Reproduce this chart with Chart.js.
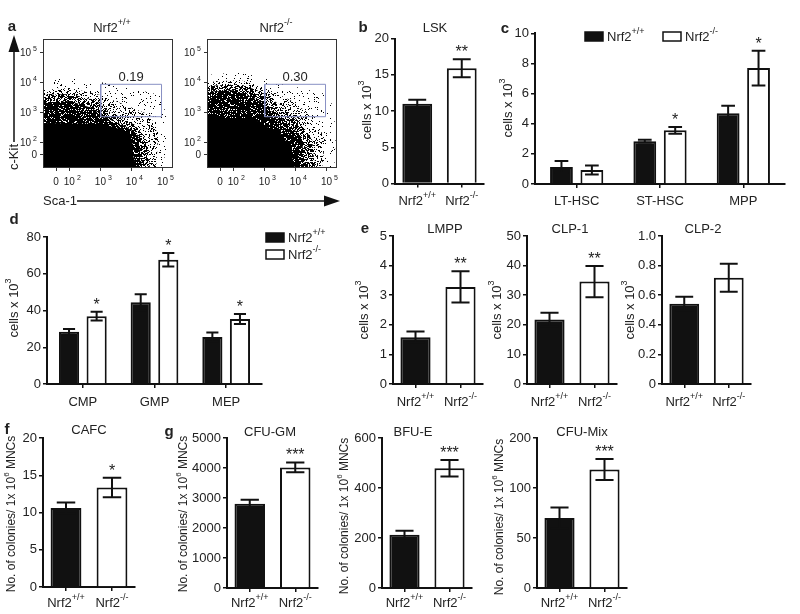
<!DOCTYPE html>
<html>
<head>
<meta charset="utf-8">
<script src="https://cdn.jsdelivr.net/npm/chart.js@4.4.0/dist/chart.umd.min.js"></script>
<style>
  html, body { margin: 0; padding: 0; background: #fff; }
  #wrap { position: relative; width: 800px; height: 614px; overflow: hidden; }
  #wrap canvas { position: absolute; left: 0; top: 0; }
</style>
</head>
<body>
<div id="wrap"></div>
<script>
// ---------- data ----------
const genotypes = ['Nrf2+/+', 'Nrf2-/-'];

// b: LSK
const lskMean = [11.0, 15.9];
const lskSem = [0.55, 1.25];
const lskSig = ['', '**'];

// c: HSC subsets
const hscCats = ['LT-HSC', 'ST-HSC', 'MPP'];
const hscWtMean = [1.13, 2.84, 4.69];
const hscWtSem = [0.40, 0.09, 0.51];
const hscKoMean = [0.93, 3.56, 7.69];
const hscKoSem = [0.30, 0.22, 1.15];
const hscSig = ['', '*', '*'];

// d: myeloid progenitors
const progCats = ['CMP', 'GMP', 'MEP'];
const progWtMean = [28.4, 44.5, 25.6];
const progWtSem = [1.6, 4.4, 2.4];
const progKoMean = [36.9, 67.6, 35.4];
const progKoSem = [2.4, 3.7, 2.7];
const progSig = ['*', '*', '*'];

// e: lymphoid progenitors
const lmppMean = [1.58, 3.28];
const lmppSem = [0.19, 0.53];
const lmppSig = ['', '**'];
const clp1Mean = [21.8, 34.6];
const clp1Sem = [2.3, 5.3];
const clp1Sig = ['', '**'];
const clp2Mean = [0.543, 0.718];
const clp2Sem = [0.047, 0.095];
const clp2Sig = ['', ''];

// f: CAFC
const cafcMean = [10.6, 13.35];
const cafcSem = [0.75, 1.3];
const cafcSig = ['', '*'];

// g: colony assays
const cfuGmMean = [2810, 4020];
const cfuGmSem = [135, 165];
const bfuEMean = [213, 479];
const bfuESem = [16, 33];
const cfuMixMean = [70, 118.5];
const cfuMixSem = [10.5, 10.5];
const colonySig = ['', '***'];
const cfuMixTicks = [0, 50, 100, 150];
const cfuMixTickLabels = ['0', '50', '100', '200'];

// a: flow plots, axis units are decades (0 sits at 1.6)
// outlines of the event cloud at falling density, sparse -> solid
const flowTickPos = [1.6, 2, 3, 4, 5];
const flowTickExp = ['', '2', '3', '4', '5'];
const wtSparse = [[1.15, 4.08], [2.02, 4.15], [2.99, 4.02], [3.96, 3.82], [4.92, 3.58], [5.18, 2.75], [5.12, 1.75], [4.99, 1.15], [1.15, 1.15]];
const wtLight = [[1.15, 3.75], [2.02, 3.82], [2.99, 3.58], [3.80, 3.25], [4.60, 2.92], [4.86, 2.25], [4.80, 1.15], [1.15, 1.15]];
const wtMid = [[1.15, 3.58], [2.02, 3.62], [2.83, 3.42], [3.31, 3.02], [4.12, 2.58], [4.47, 2.08], [4.60, 1.15], [1.15, 1.15]];
const wtDark = [[1.15, 3.32], [2.02, 3.38], [2.73, 3.15], [3.15, 2.82], [3.80, 2.55], [4.21, 2.25], [4.34, 1.15], [1.15, 1.15]];
const wtSolid = [[1.15, 2.65], [2.99, 2.62], [3.41, 2.52], [3.73, 2.42], [3.96, 2.25], [4.05, 1.92], [4.05, 1.58], [4.18, 1.15], [1.15, 1.15]];
const koSparse = [[1.15, 4.25], [2.21, 4.35], [3.18, 4.08], [4.15, 3.82], [5.12, 3.58], [5.31, 2.42], [5.25, 1.15], [1.15, 1.15]];
const koLight = [[1.15, 4.02], [2.21, 4.08], [3.02, 3.82], [3.83, 3.42], [4.63, 2.82], [4.96, 2.08], [4.86, 1.15], [1.15, 1.15]];
const koMid = [[1.15, 3.88], [2.21, 3.95], [2.92, 3.68], [3.50, 3.25], [4.15, 2.68], [4.54, 2.08], [4.63, 1.15], [1.15, 1.15]];
const koDark = [[1.15, 3.68], [2.05, 3.75], [2.80, 3.42], [3.25, 3.02], [3.89, 2.55], [4.21, 2.08], [4.31, 1.15], [1.15, 1.15]];
const koSolid = [[1.15, 2.82], [2.63, 2.82], [3.09, 2.52], [3.50, 2.32], [3.83, 1.85], [3.92, 1.42], [3.99, 1.15], [1.15, 1.15]];
const gateX = [3.01, 4.97];
const gateY = [2.86, 3.94];
const gateFreq = ['0.19', '0.30'];

// ---------- drawing helpers ----------
const FONT = '"Liberation Sans", Arial, Helvetica, sans-serif';
const INK = '#111';
const TEXT = '#222';

Chart.defaults.font.family = FONT;
Chart.defaults.color = TEXT;

const wtLab = { base: 'Nrf2', sup: '+/+' };
const koLab = { base: 'Nrf2', sup: '-/-' };
const cellsLab = { base: 'cells x 10', sup: '3' };
const colonyLab = { base: 'No. of colonies/ 1x 10', sup: '6', after: ' MNCs' };

const wrap = document.getElementById('wrap');
function addCanvas() {
  const c = document.createElement('canvas');
  c.width = 800;
  c.height = 614;
  wrap.appendChild(c);
  return c;
}

// label = string or {base, sup, after}
function drawLabel(ctx, x, y, lab, size, align, bold) {
  if (typeof lab === 'string') lab = { base: lab };
  const w = bold ? 'bold ' : '';
  const big = w + size + 'px ' + FONT;
  const small = w + Math.round(size * 0.68) + 'px ' + FONT;
  const gap = lab.gap || 0;
  ctx.font = big;
  const w1 = ctx.measureText(lab.base).width;
  const w3 = lab.after ? ctx.measureText(lab.after).width : 0;
  ctx.font = small;
  const w2 = lab.sup ? ctx.measureText(lab.sup).width : 0;
  const total = lab.centerBase ? w1 : w1 + gap + w2 + w3;
  let x0 = x;
  if (align === 'center') x0 = x - total / 2;
  else if (align === 'right') x0 = x - total;
  ctx.textAlign = 'left';
  ctx.textBaseline = 'middle';
  ctx.font = big;
  ctx.fillText(lab.base, x0, y);
  if (lab.sup) {
    ctx.font = small;
    ctx.fillText(lab.sup, x0 + w1 + gap, y - size * 0.42);
  }
  if (lab.after) {
    ctx.font = big;
    ctx.fillText(lab.after, x0 + w1 + gap + w2, y);
  }
}

// speckle texture for the dot clouds (fixed hash, no randomness)
function makeStipple(density, seed) {
  const n = 48;
  const t = document.createElement('canvas');
  t.width = n;
  t.height = n;
  const c = t.getContext('2d');
  c.fillStyle = '#000';
  for (let y = 0; y < n; y++) {
    for (let x = 0; x < n; x++) {
      const h = Math.sin(x * 12.9898 + y * 78.233 + seed * 37.719) * 43758.5453;
      if (h - Math.floor(h) < density) c.fillRect(x, y, 1, 1);
    }
  }
  return c.createPattern(t, 'repeat');
}
const sparseTex = makeStipple(0.05, 1);
const lightTex = makeStipple(0.2, 2);
const midTex = makeStipple(0.4, 3);
const darkTex = makeStipple(0.7, 4);

const decorPlugin = {
  id: 'decor',
  afterDatasetsDraw(chart) {
    const ctx = chart.ctx;
    const ys = chart.scales.y;
    chart.data.datasets.forEach((ds, i) => {
      if (!ds.errors) return;
      const meta = chart.getDatasetMeta(i);
      meta.data.forEach((bar, j) => {
        const m = ds.data[j];
        const e = ds.errors[j];
        const yt = ys.getPixelForValue(m + e);
        const yb = ys.getPixelForValue(m - e);
        const half = bar.width * 0.3;
        ctx.save();
        ctx.strokeStyle = INK;
        ctx.lineWidth = 2;
        ctx.beginPath();
        ctx.moveTo(bar.x, yb); ctx.lineTo(bar.x, yt);
        ctx.moveTo(bar.x - half, yt); ctx.lineTo(bar.x + half, yt);
        ctx.moveTo(bar.x - half, yb); ctx.lineTo(bar.x + half, yb);
        ctx.stroke();
        const star = ds.stars && ds.stars[j];
        if (star) {
          ctx.fillStyle = TEXT;
          ctx.font = '16px ' + FONT;
          ctx.textAlign = 'center';
          ctx.textBaseline = 'alphabetic';
          ctx.fillText(star, bar.x, yt - 2);
        }
        ctx.restore();
      });
    });
  },
  afterDraw(chart, args, o) {
    const ctx = chart.ctx;
    const area = chart.chartArea;
    ctx.save();
    ctx.fillStyle = TEXT;
    (o.texts || []).forEach(t => drawLabel(ctx, t.x, t.y, t.lab, t.size || 13, t.align || 'center', t.bold));
    (o.yTitles || []).forEach(t => {
      ctx.save();
      ctx.translate(t.x, t.y);
      ctx.rotate(-Math.PI / 2);
      drawLabel(ctx, 0, 0, t.lab, t.size || 13, 'center');
      ctx.restore();
    });
    if (o.cats) {
      const xs = chart.scales.x;
      o.cats.labs.forEach((lab, j) => drawLabel(ctx, xs.getPixelForTick(j), o.cats.y, lab, o.cats.size || 13, 'center'));
    }
    (o.legend || []).forEach(L => {
      ctx.fillStyle = L.fill;
      ctx.fillRect(L.x, L.y, 18, 9);
      ctx.strokeStyle = INK;
      ctx.lineWidth = 1.5;
      ctx.strokeRect(L.x, L.y, 18, 9);
      ctx.fillStyle = TEXT;
      drawLabel(ctx, L.x + 22, L.y + 5, L.lab, 13, 'left');
    });
    if (o.flow) {
      ctx.strokeStyle = '#333';
      ctx.lineWidth = 1;
      ctx.strokeRect(area.left + 0.5, area.top + 0.5, area.right - area.left - 1, area.bottom - area.top - 1);
      const xs = chart.scales.x;
      const ys = chart.scales.y;
      ctx.fillStyle = TEXT;
      flowTickPos.forEach((v, k) => {
        const e = flowTickExp[k];
        const xl = e ? { base: '10', sup: e, gap: 2, centerBase: true } : '0';
        const yl = e ? { base: '10', sup: e, gap: 2 } : '0';
        drawLabel(ctx, xs.getPixelForValue(v) + (e ? 0 : -1), area.bottom + 14, xl, 10, 'center');
        drawLabel(ctx, area.left - 6, ys.getPixelForValue(v) + 1, yl, 10, 'right');
      });
      drawLabel(ctx, xs.getPixelForValue((gateX[0] + gateX[1]) / 2), ys.getPixelForValue(gateY[1]) - 7, o.flow.freq, 13, 'center');
    }
    if (o.arrows) {
      ctx.strokeStyle = INK;
      ctx.fillStyle = INK;
      ctx.lineWidth = 1.5;
      ctx.beginPath();
      ctx.moveTo(14, 142); ctx.lineTo(14, 48);
      ctx.moveTo(77, 201); ctx.lineTo(328, 201);
      ctx.stroke();
      ctx.beginPath();
      ctx.moveTo(14, 35); ctx.lineTo(8.5, 52); ctx.lineTo(19.5, 52); ctx.closePath();
      ctx.fill();
      ctx.beginPath();
      ctx.moveTo(340, 201); ctx.lineTo(324, 195.5); ctx.lineTo(324, 206.5); ctx.closePath();
      ctx.fill();
      ctx.fillStyle = TEXT;
      drawLabel(ctx, 43, 201, 'Sca-1', 13, 'left');
      ctx.save();
      ctx.translate(14, 157);
      ctx.rotate(-Math.PI / 2);
      drawLabel(ctx, 0, 0, 'c-Kit', 13, 'center');
      ctx.restore();
    }
    ctx.restore();
  }
};

// ---------- chart builders ----------
function barChart(area, cats, sets, yCfg, decor, pct) {
  const yTicks = { color: TEXT, font: { size: 13 }, padding: 2 };
  if (yCfg.step) yTicks.stepSize = yCfg.step;
  yTicks.callback = yCfg.fmt || (v => String(v));
  const yScale = {
    type: 'linear', min: 0, max: yCfg.max,
    ticks: yTicks,
    grid: { drawOnChartArea: false, drawTicks: true, tickLength: 4, color: INK, lineWidth: 1.5 },
    border: { display: true, color: INK, width: 2 },
    afterFit: s => { s.width = area.l; }
  };
  if (yCfg.vals) yScale.afterBuildTicks = s => { s.ticks = yCfg.vals.map(v => ({ value: v })); };
  return new Chart(addCanvas(), {
    type: 'bar',
    data: {
      labels: cats,
      datasets: sets.map(s => ({
        data: s.data,
        errors: s.errors,
        stars: s.stars,
        backgroundColor: s.fill,
        borderColor: INK,
        borderWidth: 2,
        categoryPercentage: pct[0],
        barPercentage: pct[1]
      }))
    },
    options: {
      responsive: false,
      animation: false,
      events: [],
      layout: { padding: { left: 0, top: area.t, right: 800 - area.r, bottom: 0 } },
      plugins: { legend: { display: false }, tooltip: { enabled: false }, decor: decor },
      scales: {
        x: {
          type: 'category',
          offset: true,
          grid: { display: true, drawOnChartArea: false, drawTicks: true, tickLength: 4, offset: false, color: INK, lineWidth: 1.5 },
          border: { display: true, color: INK, width: 2 },
          ticks: { display: false },
          afterFit: s => { s.height = 614 - area.b; }
        },
        y: yScale
      }
    },
    plugins: [decorPlugin]
  });
}

function pairChart(area, mean, sem, sig, yCfg, decor) {
  return barChart(area, genotypes,
    [{ data: mean, errors: sem, stars: sig, fill: [INK, '#fff'] }],
    yCfg, decor, [1, 0.67]);
}

function toPts(arr) {
  const pts = arr.map(p => ({ x: p[0], y: p[1] }));
  pts.push({ x: arr[0][0], y: arr[0][1] });
  return pts;
}

function flowChart(area, cloud, freq, decor) {
  const gate = [[gateX[0], gateY[0]], [gateX[1], gateY[0]], [gateX[1], gateY[1]], [gateX[0], gateY[1]]];
  const layers = [
    { pts: gate, line: '#8890c4', w: 1 },
    { pts: cloud[4], fill: '#000' },
    { pts: cloud[3], fill: darkTex },
    { pts: cloud[2], fill: midTex },
    { pts: cloud[1], fill: lightTex },
    { pts: cloud[0], fill: sparseTex }
  ];
  const tickAxis = (min, max, fitFn) => ({
    type: 'linear', min: min, max: max,
    afterBuildTicks: s => { s.ticks = flowTickPos.map(v => ({ value: v })); },
    ticks: { display: false },
    grid: { drawOnChartArea: false, drawTicks: true, tickLength: 3, color: '#333', lineWidth: 1 },
    border: { display: false },
    afterFit: fitFn
  });
  decor.flow = { freq: freq };
  return new Chart(addCanvas(), {
    type: 'line',
    data: {
      datasets: layers.map(L => ({
        data: toPts(L.pts),
        pointRadius: 0,
        tension: 0,
        borderColor: L.line || 'rgba(0,0,0,0)',
        borderWidth: L.w || 0,
        backgroundColor: L.fill || 'rgba(0,0,0,0)',
        fill: L.fill ? 'shape' : false
      }))
    },
    options: {
      responsive: false,
      animation: false,
      events: [],
      layout: { padding: { left: 0, top: area.t, right: 800 - area.r, bottom: 0 } },
      plugins: { legend: { display: false }, tooltip: { enabled: false }, decor: decor },
      scales: {
        x: tickAxis(1.15, 5.34, s => { s.height = 614 - area.b; }),
        y: tickAxis(1.15, 5.45, s => { s.width = area.l; })
      }
    },
    plugins: [decorPlugin]
  });
}

// ---------- a ----------
flowChart({ l: 43, r: 173, t: 39, b: 168 }, [wtSparse, wtLight, wtMid, wtDark, wtSolid], gateFreq[0], {
  texts: [
    { lab: 'a', x: 12, y: 27, size: 15, bold: true },
    { lab: wtLab, x: 112, y: 28, size: 13 }
  ],
  arrows: true
});
flowChart({ l: 207, r: 337, t: 39, b: 168 }, [koSparse, koLight, koMid, koDark, koSolid], gateFreq[1], {
  texts: [{ lab: koLab, x: 276, y: 28, size: 13 }]
});

// ---------- b ----------
pairChart({ l: 395, r: 484, t: 38.5, b: 183.5 }, lskMean, lskSem, lskSig, { max: 20, step: 5 }, {
  texts: [
    { lab: 'b', x: 363, y: 28, size: 15, bold: true },
    { lab: 'LSK', x: 435, y: 28 }
  ],
  yTitles: [{ lab: cellsLab, x: 367, y: 110 }],
  cats: { labs: [wtLab, koLab], y: 201 }
});

// ---------- c ----------
barChart({ l: 535, r: 785, t: 33.3, b: 184 }, hscCats, [
  { data: hscWtMean, errors: hscWtSem, fill: INK },
  { data: hscKoMean, errors: hscKoSem, stars: hscSig, fill: '#fff' }
], { max: 10, step: 2 }, {
  texts: [{ lab: 'c', x: 505, y: 29, size: 15, bold: true }],
  yTitles: [{ lab: cellsLab, x: 508, y: 108 }],
  cats: { labs: hscCats, y: 201 },
  legend: [
    { x: 585, y: 32, fill: INK, lab: wtLab },
    { x: 663, y: 32, fill: '#fff', lab: koLab }
  ]
}, [0.73, 0.75]);

// ---------- d ----------
barChart({ l: 47, r: 262, t: 237, b: 384 }, progCats, [
  { data: progWtMean, errors: progWtSem, fill: INK },
  { data: progKoMean, errors: progKoSem, stars: progSig, fill: '#fff' }
], { max: 80, step: 20 }, {
  texts: [{ lab: 'd', x: 14, y: 220, size: 15, bold: true }],
  yTitles: [{ lab: cellsLab, x: 14, y: 308 }],
  cats: { labs: progCats, y: 402 },
  legend: [
    { x: 266, y: 233, fill: INK, lab: wtLab },
    { x: 266, y: 250, fill: '#fff', lab: koLab }
  ]
}, [0.77, 0.73]);

// ---------- e ----------
pairChart({ l: 393, r: 483, t: 236, b: 384 }, lmppMean, lmppSem, lmppSig, { max: 5, step: 1 }, {
  texts: [
    { lab: 'e', x: 365, y: 229, size: 15, bold: true },
    { lab: 'LMPP', x: 445, y: 229 }
  ],
  yTitles: [{ lab: cellsLab, x: 364, y: 310 }],
  cats: { labs: [wtLab, koLab], y: 402 }
});
pairChart({ l: 527, r: 617, t: 236, b: 384 }, clp1Mean, clp1Sem, clp1Sig, { max: 50, step: 10 }, {
  texts: [{ lab: 'CLP-1', x: 570, y: 229 }],
  yTitles: [{ lab: cellsLab, x: 497, y: 310 }],
  cats: { labs: [wtLab, koLab], y: 402 }
});
pairChart({ l: 662, r: 751, t: 236, b: 384 }, clp2Mean, clp2Sem, clp2Sig,
  { max: 1, step: 0.2, fmt: v => (v === 0 ? '0' : v.toFixed(1)) }, {
  texts: [{ lab: 'CLP-2', x: 703, y: 229 }],
  yTitles: [{ lab: cellsLab, x: 630, y: 310 }],
  cats: { labs: [wtLab, koLab], y: 402 }
});

// ---------- f ----------
pairChart({ l: 43, r: 135, t: 438, b: 587 }, cafcMean, cafcSem, cafcSig, { max: 20, step: 5 }, {
  texts: [
    { lab: 'f', x: 7, y: 430, size: 15, bold: true },
    { lab: 'CAFC', x: 89, y: 430 }
  ],
  yTitles: [{ lab: colonyLab, x: 12, y: 514, size: 12 }],
  cats: { labs: [wtLab, koLab], y: 603 }
});

// ---------- g ----------
pairChart({ l: 227, r: 318, t: 438, b: 588 }, cfuGmMean, cfuGmSem, colonySig, { max: 5000, step: 1000 }, {
  texts: [
    { lab: 'g', x: 169, y: 432, size: 15, bold: true },
    { lab: 'CFU-GM', x: 270, y: 432 }
  ],
  yTitles: [{ lab: colonyLab, x: 184, y: 514, size: 12 }],
  cats: { labs: [wtLab, koLab], y: 603 }
});
pairChart({ l: 382, r: 472, t: 438, b: 588 }, bfuEMean, bfuESem, colonySig, { max: 600, step: 200 }, {
  texts: [{ lab: 'BFU-E', x: 413, y: 432 }],
  yTitles: [{ lab: colonyLab, x: 345, y: 516, size: 12 }],
  cats: { labs: [wtLab, koLab], y: 603 }
});
pairChart({ l: 537, r: 627, t: 438, b: 588 }, cfuMixMean, cfuMixSem, colonySig,
  { max: 150, vals: cfuMixTicks, fmt: (v, i) => cfuMixTickLabels[i] }, {
  texts: [{ lab: 'CFU-Mix', x: 582, y: 432 }],
  yTitles: [{ lab: colonyLab, x: 500, y: 517, size: 12 }],
  cats: { labs: [wtLab, koLab], y: 603 }
});
</script>
</body>
</html>
